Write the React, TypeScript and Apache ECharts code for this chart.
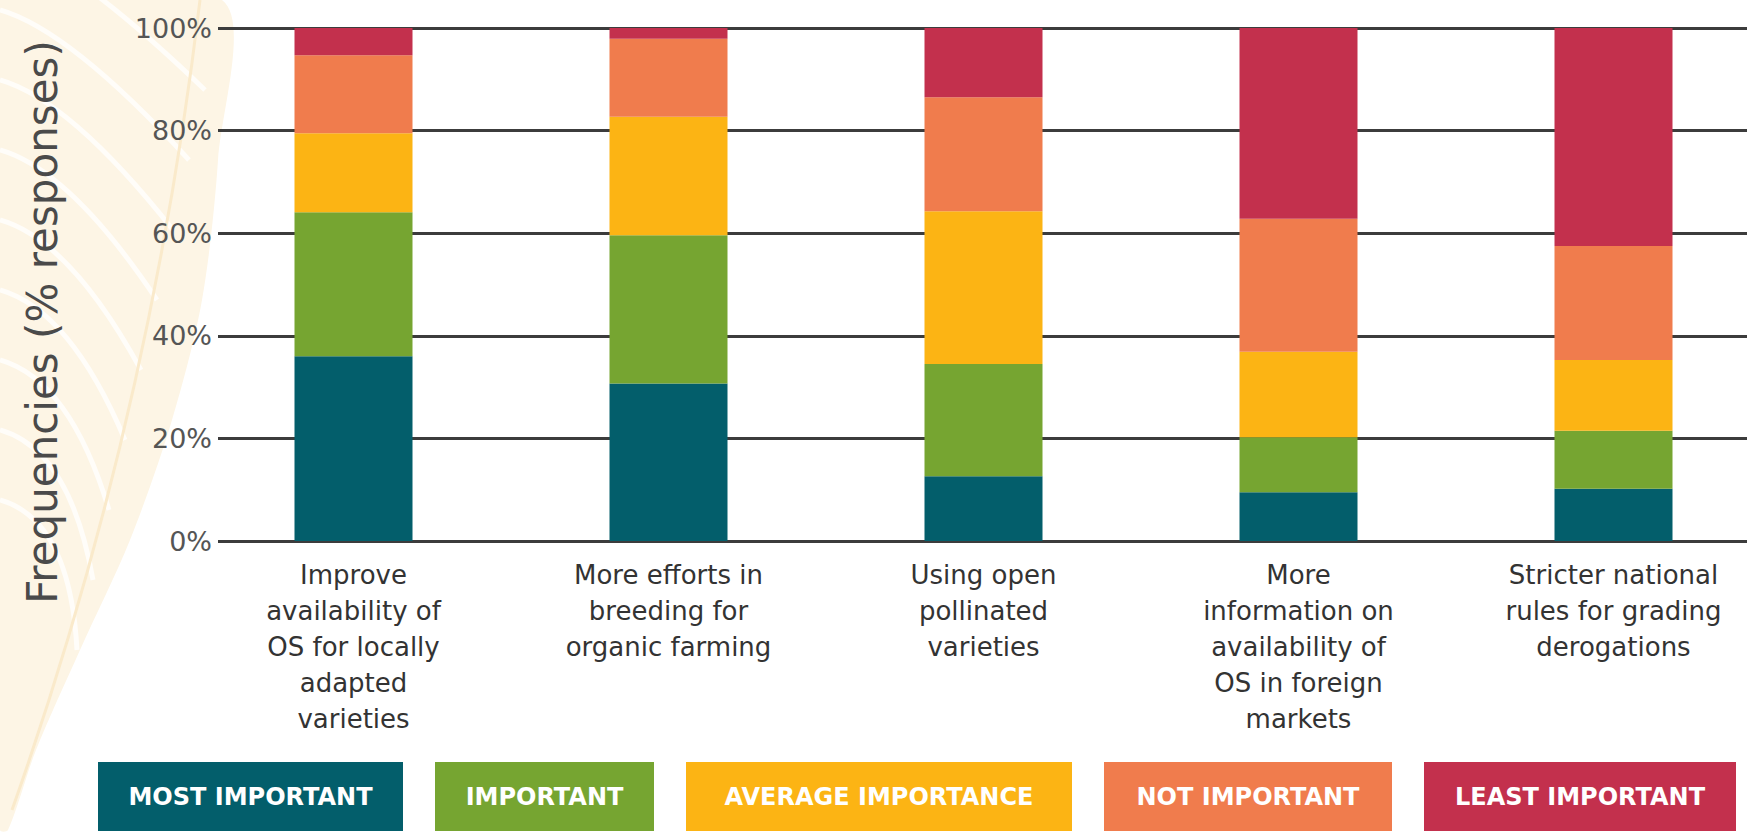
import { useEffect, useRef } from "react";
import * as echarts from "echarts";

// Measures asked about, in the order they are drawn left to right
const categories = [
  "Improve\navailability of\nOS for locally\nadapted\nvarieties",
  "More efforts in\nbreeding for\norganic farming",
  "Using open\npollinated\nvarieties",
  "More\ninformation on\navailability of\nOS in foreign\nmarkets",
  "Stricter national\nrules for grading\nderogations",
];

// Importance levels (stack order, bottom to top)
const levels = [
  "MOST IMPORTANT",
  "IMPORTANT",
  "AVERAGE IMPORTANCE",
  "NOT IMPORTANT",
  "LEAST IMPORTANT",
];

// Share of responses per measure, in %
const mostImportant = [36.0, 30.7, 12.6, 9.5, 10.2];
const important = [28.1, 28.9, 21.9, 10.7, 11.3];
const averageImportance = [15.4, 23.1, 29.8, 16.7, 13.8];
const notImportant = [15.2, 15.2, 22.2, 25.9, 22.2];
const leastImportant = [5.3, 2.1, 13.5, 37.2, 42.5];

const axisTitle = "Frequencies (% responses)";

const levelValues = [mostImportant, important, averageImportance, notImportant, leastImportant];
const levelColors = ["#035e6b", "#76a531", "#fcb414", "#f07c4d", "#c3304d"];
const legendBoxWidths = [305, 219, 386, 288, 312];

const PLOT_TOP = 28;
const PLOT_BOTTOM = 838 - 541;

function buildOption(): echarts.EChartsOption {
  const rich: Record<string, any> = {};
  levels.forEach((_, i) => {
    rich[`l${i}`] = {
      width: legendBoxWidths[i],
      height: 69,
      lineHeight: 69,
      backgroundColor: levelColors[i],
      color: "#ffffff",
      fontSize: 24,
      fontWeight: "bold",
      fontFamily: "DejaVu Sans",
      align: "center",
    };
  });

  // soft cream leaf pattern behind the axis title
  const veins: any[] = [];
  for (let k = 0; k < 9; k++) {
    const y0 = -60 + k * 70;
    veins.push({
      type: "bezierCurve",
      silent: true,
      z: -9,
      shape: {
        x1: 0,
        y1: y0,
        cpx1: 70,
        cpy1: y0 + 20,
        x2: 205 - k * 16,
        y2: y0 + 150,
      },
      style: { stroke: "rgba(255,255,255,0.75)", lineWidth: 5, fill: "none" },
    });
  }

  return {
    animation: false,
    backgroundColor: "#ffffff",
    textStyle: { fontFamily: "DejaVu Sans" },
    graphic: [
      {
        type: "polygon",
        silent: true,
        z: -10,
        shape: {
          points: [
            [0, 0],
            [222, 0],
            [218, 160],
            [202, 300],
            [172, 420],
            [130, 540],
            [80, 650],
            [36, 750],
            [8, 830],
            [0, 830],
          ],
          smooth: 0.3,
        },
        style: { fill: "#fdf5e5" },
      },
      ...veins,
      {
        type: "bezierCurve",
        silent: true,
        z: -9,
        shape: { x1: 200, y1: 0, cpx1: 150, cpy1: 420, x2: 12, y2: 810 },
        style: { stroke: "#faeacb", lineWidth: 3, fill: "none" },
      },
      {
        type: "text",
        x: 42,
        y: 322,
        rotation: Math.PI / 2,
        style: {
          text: axisTitle,
          fontSize: 42,
          fontFamily: "DejaVu Sans",
          fill: "#4a4a4a",
          align: "center",
          verticalAlign: "middle",
        },
      },
    ],
    legend: {
      data: levels,
      left: 88,
      top: 757,
      itemGap: 27,
      itemWidth: 0,
      itemHeight: 0,
      icon: "none",
      selectedMode: false,
      formatter: (name: string) => `{l${levels.indexOf(name)}|${name}}`,
      textStyle: { rich },
    },
    grid: [
      // bars: five equal bands of 315 px, the last one running past the right edge
      {
        left: 196,
        width: 1575,
        top: PLOT_TOP,
        bottom: PLOT_BOTTOM,
        outerBoundsMode: "none",
      },
      // percentage scale and gridlines
      { left: 218, right: 0, top: PLOT_TOP, bottom: PLOT_BOTTOM, outerBoundsMode: "none" },
    ],
    xAxis: [
      {
        type: "category",
        gridIndex: 0,
        data: categories,
        axisLine: { show: false },
        axisTick: { show: false },
        axisLabel: {
          interval: 0,
          margin: 16,
          fontSize: 26,
          lineHeight: 36,
          color: "#333333",
          fontFamily: "DejaVu Sans",
          align: "center",
          verticalAlign: "top",
        },
      },
      {
        type: "value",
        gridIndex: 1,
        min: 0,
        max: 1,
        show: false,
      },
    ],
    yAxis: [
      {
        type: "value",
        gridIndex: 0,
        min: 0,
        max: 100,
        show: false,
        splitLine: { show: false },
      },
      {
        type: "value",
        gridIndex: 1,
        min: 0,
        max: 100,
        interval: 20,
        axisLine: { show: false },
        axisTick: { show: false },
        axisLabel: {
          formatter: "{value}%",
          margin: 6,
          fontSize: 27,
          color: "#555555",
          fontFamily: "DejaVu Sans",
        },
        splitLine: {
          show: true,
          showMinLine: true,
          showMaxLine: true,
          lineStyle: { color: "#3c3c3c", width: 3 },
        },
      },
    ],
    series: levels.map((name, i) => ({
      name,
      type: "bar",
      stack: "share",
      xAxisIndex: 0,
      yAxisIndex: 0,
      barWidth: 118,
      data: levelValues[i],
      itemStyle: { color: levelColors[i] },
      emphasis: { disabled: true },
    })),
  } as echarts.EChartsOption;
}

export default function App() {
  const ref = useRef<HTMLDivElement>(null);

  useEffect(() => {
    if (!ref.current) return;
    const chart = echarts.init(ref.current, null, { renderer: "svg" });
    chart.setOption(buildOption());
    return () => chart.dispose();
  }, []);

  return (
    <div
      ref={ref}
      style={{
        position: "fixed",
        left: 0,
        top: 0,
        width: 1747,
        height: 838,
        background: "#ffffff",
      }}
    />
  );
}
